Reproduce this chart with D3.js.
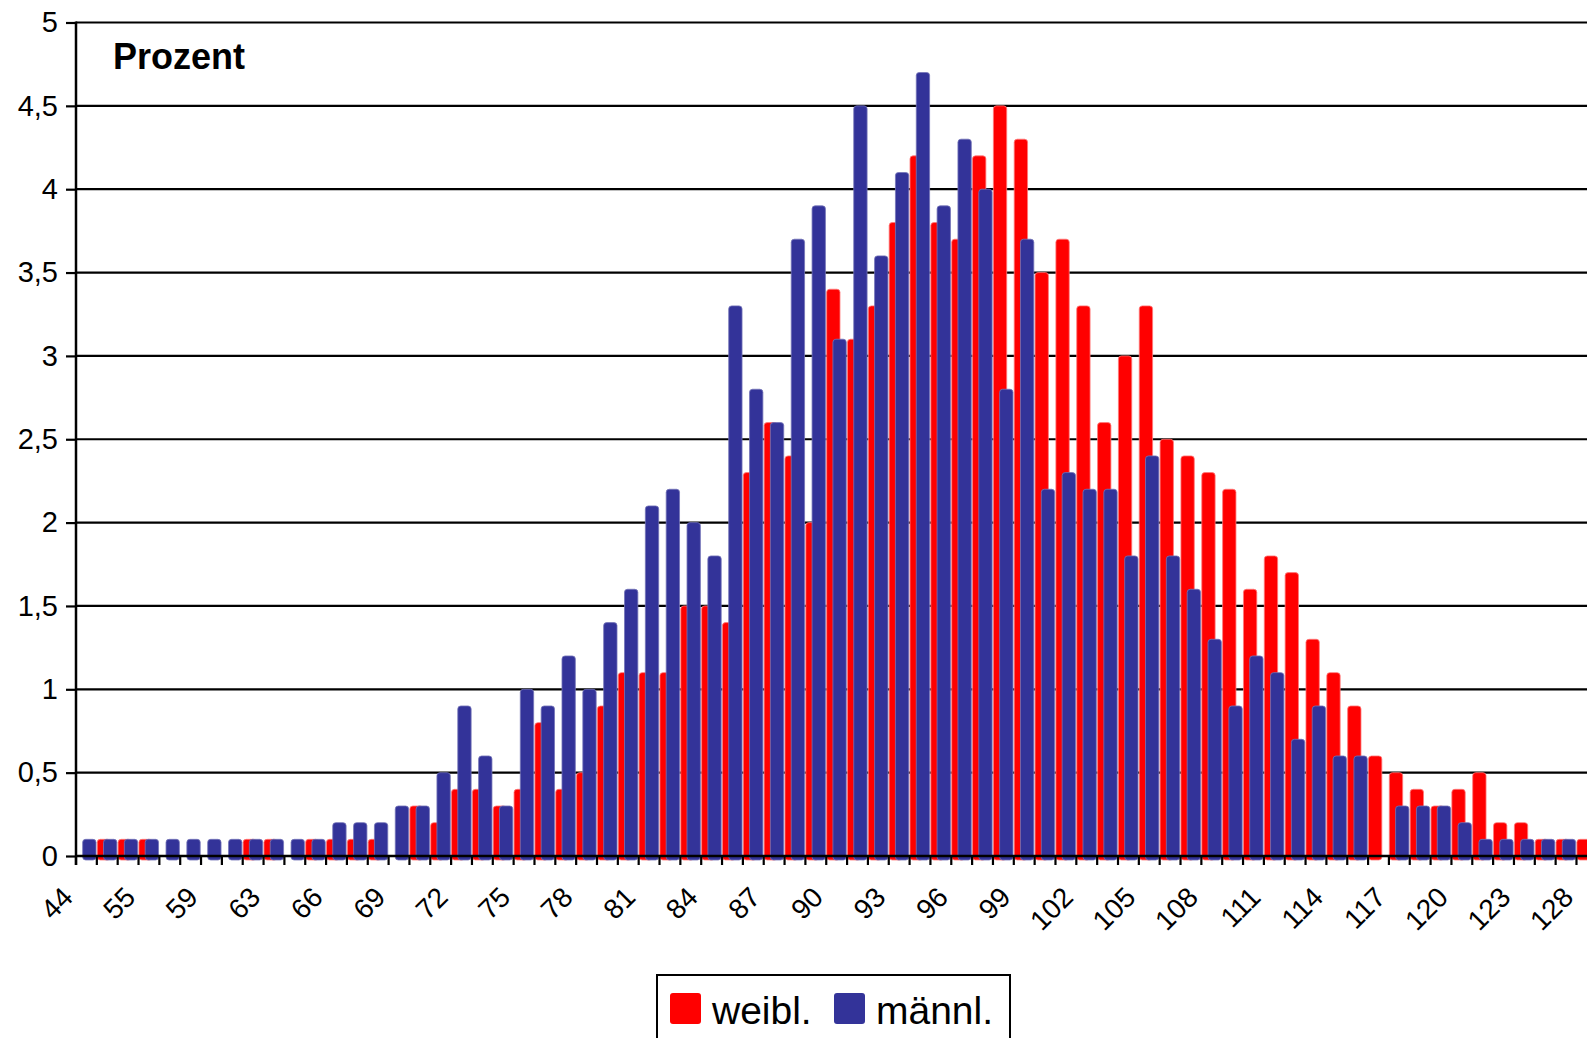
<!DOCTYPE html>
<html>
<head>
<meta charset="utf-8">
<script src="https://cdn.jsdelivr.net/npm/d3@7"></script>
<style>
  body { margin: 0; background: #fff; }
  svg { display: block; font-family: "Liberation Sans", Arial, sans-serif; }
</style>
</head>
<body>
<div id="chart"></div>
<script>
// categories (only every 3rd is printed; the unprinted ones between 44..63 and 123..128 are guesses)
var categories = [44, 52, 54, 55, 57, 58, 59, 60, 62, 63, 64, 65, 66, 67, 68, 69, 70, 71, 72, 73,
    74, 75, 76, 77, 78, 79, 80, 81, 82, 83, 84, 85, 86, 87, 88, 89, 90, 91, 92, 93,
    94, 95, 96, 97, 98, 99, 100, 101, 102, 103, 104, 105, 106, 107, 108, 109, 110, 111, 112, 113,
    114, 115, 116, 117, 118, 119, 120, 121, 122, 123, 125, 126, 128];

var weibl = [0, 0.1, 0.1, 0.1, 0, 0, 0, 0, 0.1, 0.1, 0, 0.1, 0.1, 0.1, 0.1, 0, 0.3, 0.2, 0.4, 0.4,
    0.3, 0.4, 0.8, 0.4, 0.5, 0.9, 1.1, 1.1, 1.1, 1.5, 1.5, 1.4, 2.3, 2.6, 2.4, 2.0, 3.4, 3.1, 3.3, 3.8,
    4.2, 3.8, 3.7, 4.2, 4.5, 4.3, 3.5, 3.7, 3.3, 2.6, 3.0, 3.3, 2.5, 2.4, 2.3, 2.2, 1.6, 1.8, 1.7, 1.3,
    1.1, 0.9, 0.6, 0.5, 0.4, 0.3, 0.4, 0.5, 0.2, 0.2, 0.1, 0.1, 0.1];

var maennl = [0.1, 0.1, 0.1, 0.1, 0.1, 0.1, 0.1, 0.1, 0.1, 0.1, 0.1, 0.1, 0.2, 0.2, 0.2, 0.3, 0.3, 0.5, 0.9, 0.6,
    0.3, 1.0, 0.9, 1.2, 1.0, 1.4, 1.6, 2.1, 2.2, 2.0, 1.8, 3.3, 2.8, 2.6, 3.7, 3.9, 3.1, 4.5, 3.6, 4.1,
    4.7, 3.9, 4.3, 4.0, 2.8, 3.7, 2.2, 2.3, 2.2, 2.2, 1.8, 2.4, 1.8, 1.6, 1.3, 0.9, 1.2, 1.1, 0.7, 0.9,
    0.6, 0.6, 0, 0.3, 0.3, 0.3, 0.2, 0.1, 0.1, 0.1, 0.1, 0.1, 0];

var yTicks = [0, 0.5, 1, 1.5, 2, 2.5, 3, 3.5, 4, 4.5, 5];

var seriesNames = ['weibl.', 'männl.'];
var seriesColors = ['#ff0000', '#333399'];
var seriesStroke = ['#ff7a7a', '#7474b8'];

var
W = 1587,
H = 1038,
left = 76,
bw = 20.84,
y0 = 856,
yTop = 22.5;

var svg = d3.select('#chart').append('svg')
    .attr('width', W)
    .attr('height', H);

// the plot runs a little past the right edge of the picture (it is cut off there)
var x = d3.scaleBand()
    .domain(categories)
    .range([left, left + categories.length * bw])
    .paddingInner(0)
    .paddingOuter(0);

var y = d3.scaleLinear()
    .domain([0, 5])
    .range([y0, yTop]);

// gridlines
svg.append('g').selectAll('line')
    .data(yTicks.filter(function (d) { return d > 0; }))
    .enter().append('line')
    .attr('x1', left)
    .attr('x2', W + 10)
    .attr('y1', function (d) { return y(d); })
    .attr('y2', function (d) { return y(d); })
    .style('stroke', '#000')
    .style('stroke-width', 2.2);

// bars: red first, blue drawn over it shifted right
var bandW = x.bandwidth(),
    barW = bandW * 0.64,
    offs = [bandW * 0.02, bandW * 0.32];

[weibl, maennl].forEach(function (vals, s) {
    var data = vals.map(function (v, i) { return {cat: categories[i], v: v}; })
        .filter(function (d) { return d.v > 0; });
    svg.append('g').selectAll('rect')
        .data(data)
        .enter().append('rect')
        .attr('x', function (d) { return x(d.cat) + offs[s]; })
        .attr('y', function (d) { return y(d.v); })
        .attr('width', barW)
        .attr('height', function (d) { return y0 - y(d.v) + 4; })
        .attr('rx', 3)
        .style('fill', seriesColors[s])
        .style('stroke', seriesStroke[s])
        .style('stroke-width', 0.8);
});

// y axis
var yAxis = d3.axisLeft(y)
    .tickValues(yTicks)
    .tickSize(10)
    .tickPadding(8)
    .tickFormat(function (d) { return String(d).replace('.', ','); });

var gy = svg.append('g')
    .attr('transform', 'translate(' + left + ',0)')
    .call(yAxis);
gy.select('.domain').remove();
gy.selectAll('.tick line').style('stroke', '#000').style('stroke-width', 2.2);
gy.selectAll('.tick text')
    .style('font-size', '29px')
    .style('fill', '#000')
    .attr('font-family', null);

svg.append('line')
    .attr('x1', left).attr('x2', left)
    .attr('y1', yTop - 1).attr('y2', y0 + 9)
    .style('stroke', '#000').style('stroke-width', 2.5);

// x axis line and ticks at category borders
svg.append('line')
    .attr('x1', left).attr('x2', W + 10)
    .attr('y1', y0).attr('y2', y0)
    .style('stroke', '#000').style('stroke-width', 2.5);

svg.append('g').selectAll('line')
    .data(categories)
    .enter().append('line')
    .attr('x1', function (d) { return x(d); })
    .attr('x2', function (d) { return x(d); })
    .attr('y1', y0)
    .attr('y2', y0 + 9)
    .style('stroke', '#000')
    .style('stroke-width', 2.2);

// every third category label, rotated
svg.append('g').selectAll('text')
    .data(categories.filter(function (d, i) { return i % 3 === 0; }))
    .enter().append('text')
    .attr('transform', function (d) {
        return 'translate(' + (x(d) + bandW / 2 - 12) + ',' + (y0 + 43) + ') rotate(-45)';
    })
    .attr('text-anchor', 'end')
    .style('font-size', '28px')
    .text(function (d) { return d; });

svg.append('text')
    .attr('x', 113)
    .attr('y', 69)
    .style('font-size', '36px')
    .style('font-weight', 'bold')
    .text('Prozent');

// legend
var lg = svg.append('g');
lg.append('rect')
    .attr('x', 657).attr('y', 975)
    .attr('width', 353).attr('height', 100)
    .style('fill', '#fff')
    .style('stroke', '#000')
    .style('stroke-width', 2);

var lx = [670, 834];
seriesNames.forEach(function (name, i) {
    lg.append('rect')
        .attr('x', lx[i]).attr('y', 993)
        .attr('width', 31).attr('height', 31)
        .attr('rx', 3)
        .style('fill', seriesColors[i]);
    lg.append('text')
        .attr('x', lx[i] + 42)
        .attr('y', 1024)
        .style('font-size', '39px')
        .text(name);
});
</script>
</body>
</html>
